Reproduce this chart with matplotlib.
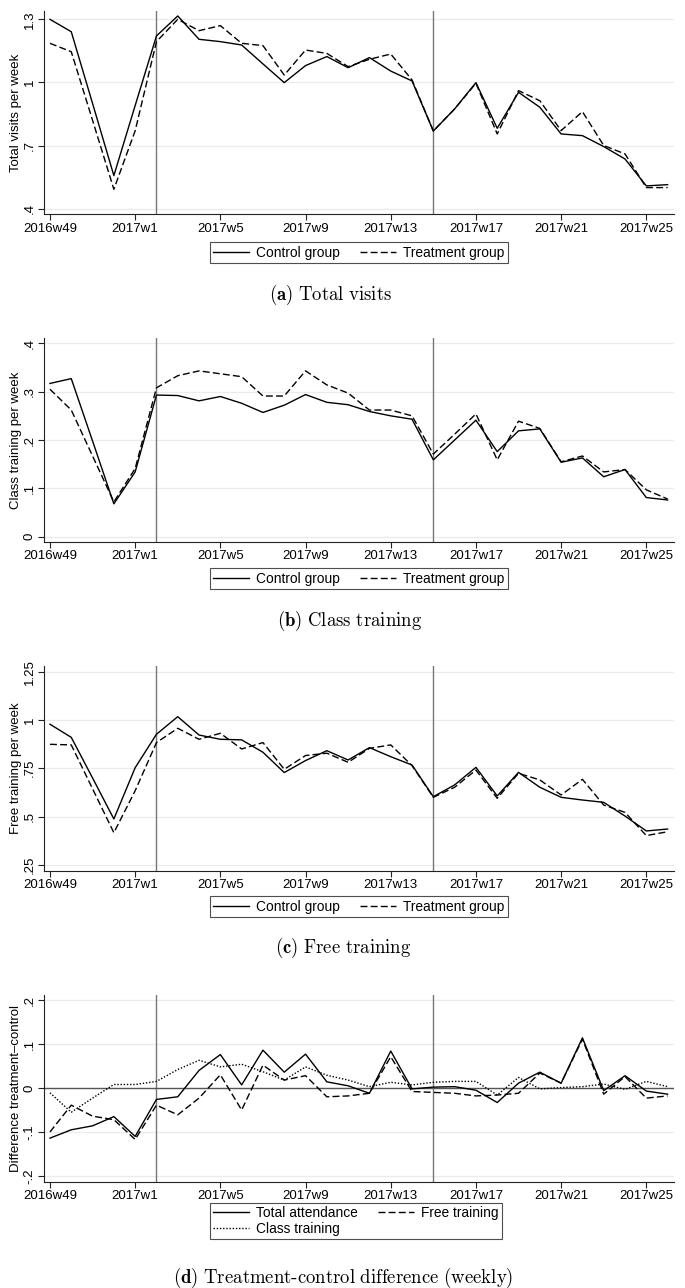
import matplotlib
matplotlib.use("Agg")
import matplotlib.pyplot as plt

plt.rcParams['font.family'] = ['Liberation Sans', 'DejaVu Sans']
plt.rcParams['mathtext.fontset'] = 'cm'

# ---------------- data ----------------
weeks = ["2016w49", "2016w50", "2016w51", "2016w52"] + [f"2017w{i}" for i in range(1, 27)]
tick_weeks = ["2016w49", "2017w1", "2017w5", "2017w9", "2017w13", "2017w17", "2017w21", "2017w25"]
event_weeks = ["2017w2", "2017w15"]

visits_control = [1.300, 1.241, 0.900, 0.557, 0.890, 1.221, 1.316, 1.205, 1.194, 1.178,
                  1.088, 0.999, 1.080, 1.123, 1.070, 1.118, 1.054, 1.007, 0.769, 0.874,
                  0.999, 0.782, 0.953, 0.882, 0.755, 0.747, 0.695, 0.636, 0.508, 0.514]
visits_treat = [1.186, 1.146, 0.820, 0.492, 0.770, 1.194, 1.300, 1.246, 1.270, 1.186,
                1.175, 1.035, 1.154, 1.138, 1.075, 1.110, 1.135, 1.012, 0.769, 0.874,
                0.996, 0.755, 0.961, 0.913, 0.771, 0.861, 0.700, 0.660, 0.500, 0.500]

class_control = [0.317, 0.327, 0.198, 0.068, 0.134, 0.293, 0.292, 0.281, 0.290, 0.276,
                 0.257, 0.272, 0.294, 0.278, 0.273, 0.259, 0.250, 0.243, 0.159, 0.200,
                 0.241, 0.176, 0.219, 0.223, 0.154, 0.163, 0.124, 0.139, 0.081, 0.076]
class_treat = [0.305, 0.262, 0.167, 0.072, 0.141, 0.308, 0.333, 0.343, 0.337, 0.331,
               0.291, 0.291, 0.343, 0.314, 0.297, 0.262, 0.262, 0.250, 0.171, 0.212,
               0.254, 0.159, 0.239, 0.224, 0.155, 0.167, 0.134, 0.139, 0.097, 0.078]

free_control = [0.978, 0.910, 0.700, 0.488, 0.753, 0.926, 1.017, 0.922, 0.900, 0.897,
                0.833, 0.728, 0.790, 0.841, 0.793, 0.857, 0.810, 0.767, 0.603, 0.664,
                0.755, 0.607, 0.729, 0.652, 0.600, 0.586, 0.574, 0.503, 0.426, 0.436]
free_treat = [0.874, 0.871, 0.644, 0.417, 0.634, 0.883, 0.957, 0.900, 0.931, 0.850,
              0.883, 0.745, 0.816, 0.828, 0.781, 0.853, 0.871, 0.764, 0.600, 0.652,
              0.741, 0.595, 0.724, 0.690, 0.612, 0.693, 0.560, 0.522, 0.402, 0.422]

diff_total = [-0.114, -0.095, -0.086, -0.065, -0.110, -0.026, -0.020, 0.040, 0.076, 0.007,
              0.086, 0.036, 0.077, 0.014, 0.005, -0.012, 0.084, -0.002, 0.002, 0.003,
              -0.005, -0.033, 0.011, 0.036, 0.011, 0.114, -0.006, 0.028, -0.007, -0.014]
diff_free = [-0.100, -0.039, -0.064, -0.072, -0.117, -0.039, -0.061, -0.023, 0.030, -0.050,
             0.052, 0.018, 0.028, -0.020, -0.018, -0.012, 0.071, -0.008, -0.010, -0.012,
             -0.018, -0.016, -0.012, 0.034, 0.011, 0.111, -0.014, 0.026, -0.023, -0.018]
diff_class = [-0.011, -0.055, -0.023, 0.008, 0.008, 0.015, 0.042, 0.063, 0.048, 0.054,
              0.037, 0.018, 0.048, 0.029, 0.018, 0.003, 0.013, 0.007, 0.013, 0.015,
              0.015, -0.016, 0.024, -0.002, 0.001, 0.003, 0.009, -0.003, 0.015, 0.003]

# ---------------- figure ----------------
W, H = 685, 1288
fig = plt.figure(figsize=(W / 100, H / 100), dpi=100)

x = list(range(len(weeks)))
tick_pos = [weeks.index(w) for w in tick_weeks]
event_pos = [weeks.index(w) for w in event_weeks]

SOLID = '-'
DASH = (0, (5, 2.3))
DOT = (0, (1, 1.3))
LW = 1.0
FS = 9.5


def make_axes(top_px, bottom_px):
    left, right = 44, 674
    return fig.add_axes([left / W, 1 - bottom_px / H, (right - left) / W, (bottom_px - top_px) / H])


def style(ax, yticks, ylabels, ylim, ylabel):
    ax.set_xlim(-0.28, 29.3)
    ax.set_ylim(*ylim)
    ax.set_xticks(tick_pos)
    ax.set_xticklabels(tick_weeks, fontsize=FS)
    ax.set_yticks(yticks)
    ax.set_yticklabels(ylabels, fontsize=FS, rotation=90, va='center')
    ax.set_ylabel(ylabel, fontsize=FS, labelpad=1)
    for s in ['top', 'right']:
        ax.spines[s].set_visible(False)
    for s in ['left', 'bottom']:
        ax.spines[s].set_linewidth(0.8)
        ax.spines[s].set_color('#222222')
    ax.tick_params(axis='both', length=4, width=0.8, color='#222222', pad=2)
    for yt in yticks:
        ax.axhline(yt, color='#ebebeb', lw=0.9, zorder=0)
    for ev in event_pos:
        ax.axvline(ev, color='#777777', lw=1.0, zorder=1)


def legend(ax, handles, labels, cx, cy, ncol):
    leg = ax.legend(handles, labels, loc='center', bbox_to_anchor=(cx / W, 1 - cy / H),
                    bbox_transform=fig.transFigure, ncol=ncol, fontsize=9.9,
                    frameon=True, fancybox=False, edgecolor='#222222', handlelength=2.6,
                    handletextpad=0.5, columnspacing=1.5, borderpad=0.25, labelspacing=0.15,
                    borderaxespad=0)
    leg.get_frame().set_linewidth(0.8)


def caption(letter, words, cx, cy):
    parts = [r'\mathrm{' + w + '}' for w in words]
    body = r'\ '.join(parts)
    fig.text(cx / W, 1 - cy / H, r'$\mathbf{(' + letter + r')}\ ' + body + '$',
             ha='center', va='center', fontsize=13.5)


def ctrl_treat_panel(top, bottom, ctrl, treat, yticks, ylabels, ylim, ylabel, leg_y, letter, cap, cap_x, cap_y):
    ax = make_axes(top, bottom)
    style(ax, yticks, ylabels, ylim, ylabel)
    l1, = ax.plot(x, ctrl, color='black', lw=LW, ls=SOLID, zorder=3)
    l2, = ax.plot(x, treat, color='black', lw=LW, ls=DASH, zorder=3)
    legend(ax, [l1, l2], ['Control group', 'Treatment group'], 358.5, leg_y, 2)
    caption(letter, cap, cap_x, cap_y)
    return ax


ctrl_treat_panel(10.7, 214.3, visits_control, visits_treat,
                 [0.4, 0.7, 1.0, 1.3], ['.4', '.7', '1', '1.3'], (0.373, 1.341),
                 'Total visits per week', 252.5, 'a', ['Total', 'visits'], 331, 295)

ctrl_treat_panel(338, 541.7, class_control, class_treat,
                 [0, 0.1, 0.2, 0.3, 0.4], ['0', '.1', '.2', '.3', '.4'], (-0.0103, 0.411),
                 'Class training per week', 578.5, 'b', ['Class', 'training'], 350, 621)

ctrl_treat_panel(666, 870.7, free_control, free_treat,
                 [0.25, 0.5, 0.75, 1.0, 1.25], ['.25', '.5', '.75', '1', '1.25'], (0.2205, 1.279),
                 'Free training per week', 906.5, 'c', ['Free', 'training'], 343, 948)

ax = make_axes(995, 1181.7)
style(ax, [-0.2, -0.1, 0, 0.1, 0.2], ['-.2', '-.1', '0', '.1', '.2'], (-0.213, 0.2114),
      'Difference treatment\u2013control')
ax.axhline(0, color='#555555', lw=1.0, zorder=2)
h1, = ax.plot(x, diff_total, color='black', lw=LW, ls=SOLID, zorder=3)
h2, = ax.plot(x, diff_free, color='black', lw=LW, ls=DASH, zorder=3)
h3, = ax.plot(x, diff_class, color='black', lw=LW, ls=DOT, zorder=3)
legend(ax, [h1, h3, h2], ['Total attendance', 'Class training', 'Free training'], 355.5, 1221, 2)
caption('d', [r'Treatment\text{-}control', 'difference', '(weekly)'], 343, 1278)

fig.savefig('out.png', dpi=100)
